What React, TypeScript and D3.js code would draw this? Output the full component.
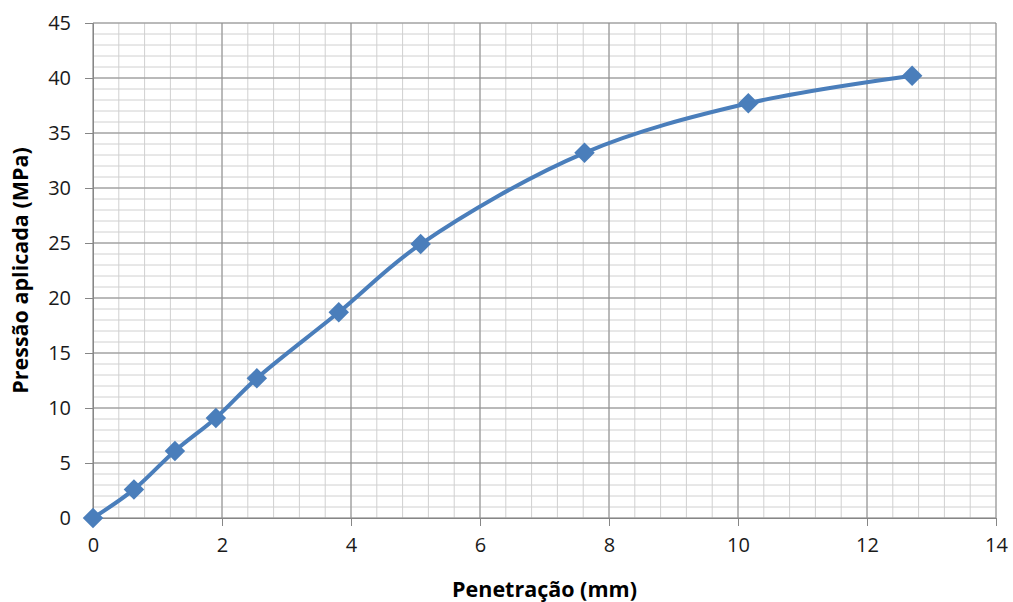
import React, { useEffect, useRef } from 'react';
import * as d3 from 'd3';

// penetration (mm) and applied pressure (MPa)
const penetration = [0, 0.635, 1.27, 1.905, 2.54, 3.81, 5.08, 7.62, 10.16, 12.7];
const pressure = [0, 2.6, 6.1, 9.1, 12.7, 18.7, 24.9, 33.2, 37.7, 40.2];
const xTicks = [0, 2, 4, 6, 8, 10, 12, 14];
const yTicks = [0, 5, 10, 15, 20, 25, 30, 35, 40, 45];

const W = 1013;
const H = 602;
const margin = { top: 23, right: 17, bottom: 84, left: 93 };
const font = '"Open Sans", "Noto Sans", sans-serif';

const App = () => {
  const svgRef = useRef<SVGSVGElement>(null);

  useEffect(() => {
    const svg = d3.select(svgRef.current);
    svg.selectAll('*').remove();

    const x = d3.scaleLinear().domain([0, 14]).range([margin.left, W - margin.right]);
    const y = d3.scaleLinear().domain([0, 45]).range([H - margin.bottom, margin.top]);

    // minor grid
    const g = svg.append('g');
    g.selectAll('line.mx')
      .data(d3.range(0, 14.001, 0.4))
      .join('line')
      .attr('x1', (d) => x(d)).attr('x2', (d) => x(d))
      .attr('y1', y(0)).attr('y2', y(45))
      .attr('stroke', '#d0d0d0').attr('stroke-width', 1);
    g.selectAll('line.my')
      .data(d3.range(0, 45.001, 1))
      .join('line')
      .attr('y1', (d) => y(d)).attr('y2', (d) => y(d))
      .attr('x1', x(0)).attr('x2', x(14))
      .attr('stroke', '#d0d0d0').attr('stroke-width', 1);

    // major grid
    svg.append('g').selectAll('line')
      .data(xTicks)
      .join('line')
      .attr('x1', (d) => x(d)).attr('x2', (d) => x(d))
      .attr('y1', y(0)).attr('y2', y(45))
      .attr('stroke', '#8c8c8c').attr('stroke-width', 1);
    svg.append('g').selectAll('line')
      .data(yTicks)
      .join('line')
      .attr('y1', (d) => y(d)).attr('y2', (d) => y(d))
      .attr('x1', x(0)).attr('x2', x(14))
      .attr('stroke', '#8c8c8c').attr('stroke-width', 1);

    // axes
    const xAxis = d3.axisBottom(x).tickValues(xTicks).tickSize(8).tickPadding(12);
    const yAxis = d3.axisLeft(y).tickValues(yTicks).tickSize(8).tickPadding(14);
    const gx = svg.append('g').attr('transform', `translate(0,${y(0)})`).call(xAxis);
    const gy = svg.append('g').attr('transform', `translate(${x(0)},0)`).call(yAxis);
    [gx, gy].forEach((a) => {
      a.select('.domain').attr('stroke', '#868686');
      a.selectAll('.tick line').attr('stroke', '#868686');
      a.selectAll('.tick text')
        .attr('fill', '#1a1a1a')
        .style('font-family', font)
        .style('font-size', '20px');
    });

    // curve
    const data = penetration.map((p, i) => ({ p, v: pressure[i] }));
    const line = d3
      .line<{ p: number; v: number }>()
      .x((d) => x(d.p))
      .y((d) => y(d.v))
      .curve(d3.curveCatmullRom.alpha(0.5));
    svg.append('path')
      .datum(data)
      .attr('fill', 'none')
      .attr('stroke', '#4a7ebb')
      .attr('stroke-width', 4)
      .attr('d', line);

    const diamond = d3.symbol().type(d3.symbolSquare).size(210);
    svg.append('g').selectAll('path')
      .data(data)
      .join('path')
      .attr('d', diamond)
      .attr('transform', (d) => `translate(${x(d.p)},${y(d.v)}) rotate(45)`)
      .attr('fill', '#4a7ebb');

    // titles
    svg.append('text')
      .attr('x', (x(0) + x(14)) / 2)
      .attr('y', 597)
      .attr('text-anchor', 'middle')
      .style('font-family', font)
      .style('font-size', '21.5px')
      .style('font-weight', 'bold')
      .text('Penetração (mm)');
    svg.append('text')
      .attr('transform', `translate(28,${(y(0) + y(45)) / 2}) rotate(-90)`)
      .attr('text-anchor', 'middle')
      .style('font-family', font)
      .style('font-size', '21.5px')
      .style('font-weight', 'bold')
      .text('Pressão aplicada (MPa)');
  }, []);

  return (
    <svg
      ref={svgRef}
      width={W}
      height={H}
      style={{ position: 'absolute', left: 0, top: 0, background: '#fff' }}
    />
  );
};

export default App;
